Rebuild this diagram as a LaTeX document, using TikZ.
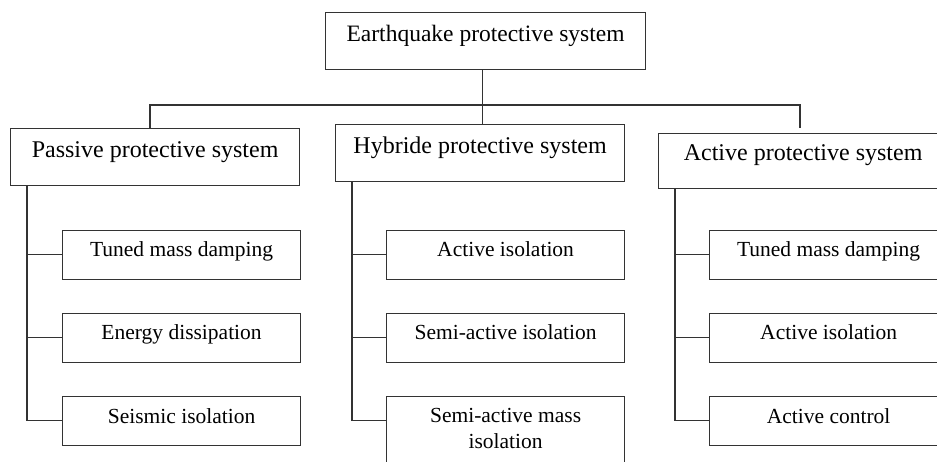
\documentclass[tikz,border=0pt]{standalone}
\usepackage{fontspec}
\setmainfont{Liberation Serif}

\tikzset{
  boxline/.style={draw=black!80, line width=1.2pt},
  topbox/.style={boxline, anchor=north west, inner sep=0pt,
    minimum width=320pt, text height=29pt, text depth=28pt,
    font=\fontsize{23.5}{28}\selectfont},
  sysbox/.style={boxline, anchor=north west, inner sep=0pt,
    minimum width=289pt, text height=28.5pt, text depth=28pt,
    font=\fontsize{24}{28}\selectfont},
  subbox/.style={boxline, anchor=north west, inner sep=0pt,
    minimum width=238pt, text height=26.5pt, text depth=22.5pt,
    font=\fontsize{21.5}{26}\selectfont},
  link/.style={draw=black!80, line width=1.2pt}
}

\begin{document}
\begin{tikzpicture}[x=1pt,y=-1pt]
  \useasboundingbox (0,0) rectangle (937,461);
  \clip (0,0) rectangle (937,461);

  % Root
  \node[topbox] (eq) at (325,12) {Earthquake protective system};

  % Three systems
  \node[sysbox] (pas) at (10,128) {Passive protective system};
  \node[sysbox] (hyb) at (335,124) {Hybride protective system};
  \node[sysbox, text height=27pt] (act) at (658,133) {Active protective system};

  % Passive members
  \node[subbox] (ps1) at (62,229.7) {Tuned mass damping};
  \node[subbox] (ps2) at (62,312.7) {Energy dissipation};
  \node[subbox] (ps3) at (62,396) {Seismic isolation};

  % Hybride members
  \node[subbox] (hs1) at (386,229.7) {Active isolation};
  \node[subbox] (hs2) at (386,312.7) {Semi-active isolation};
  \node[subbox, text height=25.7pt, text depth=60pt] (hs3) at (386,396)
    {\parbox[t]{230pt}{\centering Semi-active mass\\isolation}};

  % Active members
  \node[subbox] (as1) at (709,229.7) {Tuned mass damping};
  \node[subbox] (as2) at (709,312.7) {Active isolation};
  \node[subbox] (as3) at (709,396) {Active control};

  % Bus from the root
  \coordinate (busL) at (150,105);
  \coordinate (busR) at (800,105);
  \draw[link] ([xshift=-3pt]eq.south) -- ([xshift=-3pt]eq.south |- hyb.north);
  \draw[link] (busL |- pas.north) -- (busL) -- (busR)
    -- ([yshift=5pt]busR |- act.north);

  % Stems and branches
  \foreach \p/\c in {pas/ps,hyb/hs,act/as}{
    \coordinate (stem-\p) at ([xshift=17pt]\p.south west);
    \foreach \k in {1,2,3}
      \coordinate (in-\c-\k) at ([yshift=-24.5pt]\c\k.north west);
    \draw[link] (stem-\p) |- (in-\c-3);
    \foreach \k in {1,2}
      \draw[link] (stem-\p |- in-\c-\k) -- (in-\c-\k);
  }

\end{tikzpicture}
\end{document}
